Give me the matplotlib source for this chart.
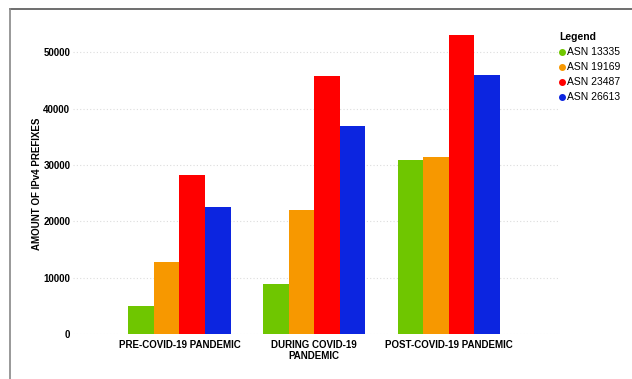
import matplotlib
matplotlib.use("Agg")
import matplotlib.pyplot as plt
from matplotlib.lines import Line2D
import numpy as np

plt.rcParams['font.family'] = ['Liberation Sans', 'DejaVu Sans']

periods = ["PRE-COVID-19 PANDEMIC", "DURING COVID-19\nPANDEMIC", "POST-COVID-19 PANDEMIC"]
asn_names = ["ASN 13335", "ASN 19169", "ASN 23487", "ASN 26613"]
asn_13335 = [5000, 8900, 30900]
asn_19169 = [12800, 22000, 31400]
asn_23487 = [28200, 45700, 53000]
asn_26613 = [22500, 36900, 45900]
colors = ["#6fc600", "#f79800", "#ff0000", "#0c25e0"]
yticks = [0, 10000, 20000, 30000, 40000, 50000]

W, H = 632, 379
fig = plt.figure(figsize=(W / 100, H / 100), dpi=100)
ax = fig.add_axes([73 / W, 45 / H, (558 - 73) / W, 310 / H])

series = [asn_13335, asn_19169, asn_23487, asn_26613]
x = np.arange(len(periods))
bw = 0.19
for i, (vals, c) in enumerate(zip(series, colors)):
    ax.bar(x + (i - 1.5) * bw, vals, width=bw, color=c, linewidth=0, zorder=3)

ax.set_xlim(-0.79, 2.81)
ax.set_ylim(0, 55000)
ax.set_yticks(yticks)
ax.set_yticklabels([str(t) for t in yticks], fontsize=7, fontweight='bold')
ax.set_xticks(x)
ax.set_xticklabels(periods, fontsize=7, fontweight='bold', linespacing=1.15)
ax.tick_params(length=0, pad=4)
ax.tick_params(axis='y', pad=2)
ax.grid(axis='y', color='#dddddd', linestyle=(0, (1, 2)), linewidth=0.8, zorder=0)
for s in ax.spines.values():
    s.set_visible(False)
ax.set_ylabel("AMOUNT OF IPv4 PREFIXES", fontsize=7, fontweight='bold')
ax.yaxis.set_label_coords(-0.064, 0.485)

handles = [Line2D([], [], marker='o', linestyle='none', markersize=4,
                  markerfacecolor=c, markeredgecolor=c) for c in colors]
leg = fig.legend(handles, asn_names, loc='upper left',
                 bbox_to_anchor=(554 / W, 1 - 27 / H), frameon=False,
                 fontsize=7.5, title="Legend", handlelength=0.6,
                 handletextpad=0.15, labelspacing=0.48, borderpad=0,
                 alignment='left')
leg.get_title().set_fontweight('bold')
leg.get_title().set_fontsize(7.5)

# outer frame lines
fig.add_artist(Line2D([10 / W, 1], [1 - 9 / H, 1 - 9 / H], transform=fig.transFigure,
                      color='#555555', linewidth=1.2))
fig.add_artist(Line2D([10 / W, 10 / W], [0, 1 - 9 / H], transform=fig.transFigure,
                      color='#888888', linewidth=1.2))

fig.savefig("out.png", dpi=100)
